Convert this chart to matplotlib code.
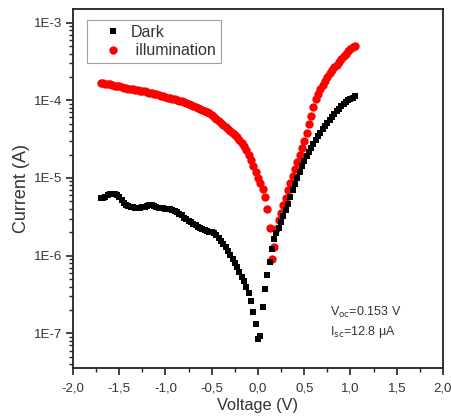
import matplotlib
matplotlib.use("Agg")
import matplotlib.pyplot as plt
from matplotlib.ticker import FixedLocator, LogLocator, NullFormatter, FuncFormatter
import numpy as np

plt.rcParams['font.family'] = ['Liberation Sans', 'DejaVu Sans']

# Voltage sweep (V)
voltage = [
    -1.700, -1.675, -1.650, -1.625, -1.600, -1.575, -1.550, -1.525, -1.500, -1.475,
    -1.450, -1.425, -1.400, -1.375, -1.350, -1.325, -1.300, -1.275, -1.250, -1.225,
    -1.200, -1.175, -1.150, -1.125, -1.100, -1.075, -1.050, -1.025, -1.000, -0.975,
    -0.950, -0.925, -0.900, -0.875, -0.850, -0.825, -0.800, -0.775, -0.750, -0.725,
    -0.700, -0.675, -0.650, -0.625, -0.600, -0.575, -0.550, -0.525, -0.500, -0.475,
    -0.450, -0.425, -0.400, -0.375, -0.350, -0.325, -0.300, -0.275, -0.250, -0.225,
    -0.200, -0.175, -0.150, -0.125, -0.100, -0.075, -0.050, -0.025, 0.000, 0.025,
    0.050, 0.075, 0.100, 0.125, 0.150, 0.175, 0.200, 0.225, 0.250, 0.275,
    0.300, 0.325, 0.350, 0.375, 0.400, 0.425, 0.450, 0.475, 0.500, 0.525,
    0.550, 0.575, 0.600, 0.625, 0.650, 0.675, 0.700, 0.725, 0.750, 0.775,
    0.800, 0.825, 0.850, 0.875, 0.900, 0.925, 0.950, 0.975, 1.000, 1.025,
    1.050,
]

# log10 of |current| (A), dark
dark_log10 = [
    -5.26, -5.26, -5.25, -5.22, -5.21, -5.205, -5.21, -5.22, -5.24, -5.28,
    -5.32, -5.35, -5.36, -5.37, -5.38, -5.39, -5.39, -5.385, -5.38, -5.37,
    -5.36, -5.35, -5.35, -5.36, -5.375, -5.385, -5.39, -5.39, -5.395, -5.40,
    -5.40, -5.41, -5.42, -5.44, -5.46, -5.48, -5.51, -5.53, -5.55, -5.57,
    -5.59, -5.61, -5.63, -5.645, -5.66, -5.67, -5.68, -5.69, -5.70, -5.715,
    -5.74, -5.77, -5.81, -5.85, -5.89, -5.94, -5.99, -6.04, -6.09, -6.15,
    -6.21, -6.27, -6.33, -6.40, -6.48, -6.58, -6.73, -6.88, -7.07, -7.03,
    -6.66, -6.43, -6.25, -6.08, -5.92, -5.78, -5.71, -5.64, -5.57, -5.49,
    -5.41, -5.33, -5.24, -5.16, -5.08, -5.00, -4.92, -4.85, -4.78, -4.72,
    -4.66, -4.61, -4.56, -4.51, -4.46, -4.42, -4.37, -4.33, -4.29, -4.25,
    -4.21, -4.18, -4.14, -4.11, -4.08, -4.05, -4.02, -4.00, -3.98, -3.965,
    -3.95,
]

# log10 of |current| (A), under illumination
illum_log10 = [
    -3.775, -3.78, -3.785, -3.79, -3.795, -3.80, -3.81, -3.815, -3.82, -3.83,
    -3.84, -3.845, -3.85, -3.855, -3.86, -3.865, -3.87, -3.875, -3.88, -3.885,
    -3.895, -3.90, -3.91, -3.92, -3.925, -3.935, -3.94, -3.95, -3.955, -3.965,
    -3.97, -3.98, -3.99, -3.995, -4.005, -4.015, -4.025, -4.035, -4.045, -4.06,
    -4.075, -4.085, -4.10, -4.11, -4.125, -4.14, -4.155, -4.17, -4.19, -4.215,
    -4.24, -4.265, -4.29, -4.315, -4.34, -4.365, -4.39, -4.415, -4.445, -4.475,
    -4.51, -4.545, -4.59, -4.64, -4.70, -4.77, -4.85, -4.93, -4.995, -5.065,
    -5.14, -5.25, -5.40, -5.64, -6.04, -5.89, -5.66, -5.54, -5.45, -5.35,
    -5.26, -5.16, -5.06, -4.98, -4.89, -4.80, -4.71, -4.62, -4.52, -4.42,
    -4.31, -4.20, -4.09, -3.99, -3.92, -3.86, -3.80, -3.75, -3.70, -3.655,
    -3.61, -3.575, -3.54, -3.505, -3.47, -3.43, -3.40, -3.37, -3.34, -3.32,
    -3.295,
]

x_ticks = [-2.0, -1.5, -1.0, -0.5, 0.0, 0.5, 1.0, 1.5, 2.0]
y_ticks = [1e-7, 1e-6, 1e-5, 1e-4, 1e-3]
y_tick_labels = ["1E-7", "1E-6", "1E-5", "1E-4", "1E-3"]

v = np.array(voltage)
i_dark = 10 ** np.array(dark_log10)
i_ill = 10 ** np.array(illum_log10)

fig = plt.figure(figsize=(4.52, 4.19), dpi=100)
ax = fig.add_axes([0.1615, 0.1210, 0.8185, 0.8575])

ax.plot(v, i_dark, linestyle='none', marker='s', markersize=4.8,
        color='black', markeredgewidth=0, label='Dark', zorder=3)
ax.plot(v, i_ill, linestyle='none', marker='o', markersize=6.0,
        color='#ff0000', markeredgewidth=0, label=' illumination', zorder=2)

ax.set_yscale('log')
ax.set_xlim(-2.0, 2.0)
ax.set_ylim(10 ** -7.451, 10 ** -2.825)

ax.xaxis.set_major_locator(FixedLocator(x_ticks))
ax.xaxis.set_minor_locator(FixedLocator([-1.75, -1.25, -0.75, -0.25, 0.25, 0.75, 1.25, 1.75]))
ax.xaxis.set_major_formatter(FuncFormatter(lambda val, pos: f"{val:.1f}".replace('.', ',')))

ax.yaxis.set_major_locator(FixedLocator(y_ticks))
ax.yaxis.set_minor_locator(LogLocator(base=10, subs=np.arange(2, 10), numticks=20))
ax.yaxis.set_minor_formatter(NullFormatter())
ax.set_yticklabels(y_tick_labels)

ax.tick_params(axis='both', which='major', direction='out', length=5, width=1.2,
               labelsize=9.5, colors='#222222', labelcolor='#333333', pad=2.5)
ax.tick_params(axis='both', which='minor', direction='out', length=3, width=1.0,
               colors='#222222')
ax.tick_params(axis='x', which='major', pad=5)
ax.tick_params(top=False, right=False, which='both')

for s in ax.spines.values():
    s.set_linewidth(1.3)
    s.set_color('#222222')

ax.set_xlabel('Voltage (V)', fontsize=11.8, color='#333333', labelpad=3)
ax.set_ylabel('Current (A)', fontsize=13, color='#333333', labelpad=3)

leg = ax.legend(loc='upper left', bbox_to_anchor=(0.038, 0.969), fontsize=11.5,
                frameon=True, fancybox=False, edgecolor='#888888',
                handlelength=2.6, handletextpad=-0.15, borderpad=0.3,
                labelspacing=0.2, borderaxespad=0.0, markerscale=1.0)
leg.get_frame().set_linewidth(0.8)
for t in leg.get_texts():
    t.set_color('#333333')

ax.text(0.694, 0.147, r'V$_{\mathrm{oc}}$=0.153 V', transform=ax.transAxes,
        fontsize=9, color='#333333')
ax.text(0.694, 0.092, r'I$_{\mathrm{sc}}$=12.8 μA', transform=ax.transAxes,
        fontsize=9, color='#333333')

fig.savefig('out.png', dpi=100)
